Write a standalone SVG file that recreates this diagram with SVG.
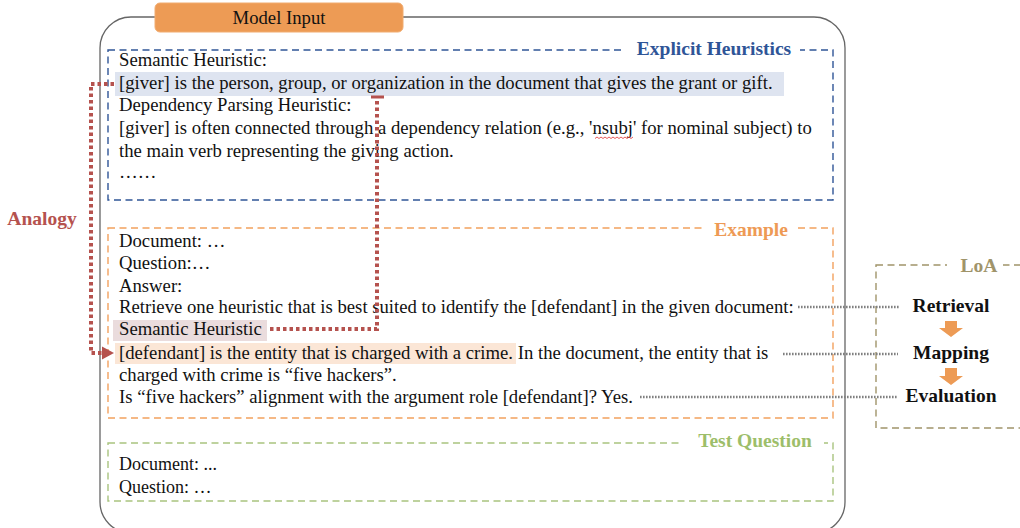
<svg xmlns="http://www.w3.org/2000/svg" width="1020" height="528" viewBox="0 0 1020 528" font-family="Liberation Serif, DejaVu Serif, serif">
<style>
text{font-family:'Liberation Serif','DejaVu Serif',serif;font-size:18.7px;fill:#111}
.b{font-weight:bold;font-size:19.5px}
.title{font-weight:bold;font-size:19.5px;text-anchor:middle}
.dash{fill:none;stroke-width:1.4;stroke-dasharray:7 4.5}
.red{fill:none;stroke:#B5524E;stroke-width:4;stroke-dasharray:3.5 3}
.gray{fill:none;stroke:#808080;stroke-width:2.4;stroke-dasharray:1.6 1.4}
</style>
<rect width="1020" height="528" fill="#fff"/>
<g id="main">
<rect x="100" y="17" width="745" height="516" rx="31" fill="#fff" stroke="#666" stroke-width="1.3"/>
</g>
<g id="model-input">
<rect x="155" y="3" width="248" height="29" rx="5" fill="#ED9B55" stroke="#F1AC70" stroke-width="1"/>
<text x="279" y="24" text-anchor="middle">Model Input</text>
</g>
<g id="explicit">
<rect x="108" y="50" width="725" height="150" class="dash" stroke="#2F5597"/>
<rect x="625" y="40" width="175" height="20" fill="#fff"/>
<text x="714" y="55" class="title" style="fill:#2F5597">Explicit Heuristics</text>
<rect x="115" y="72" width="669" height="24" fill="#DEE4F0"/>
<text x="119" y="66">Semantic Heuristic:</text>
<text x="119" y="89">[giver] is the person, group, or organization in the document that gives the grant or gift.</text>
<text x="119" y="111">Dependency Parsing Heuristic:</text>
<text x="119" y="134">[giver] is often connected through a dependency relation (e.g., 'nsubj' for nominal subject) to</text>
<path d="M595 138.5 l2 -1.5 l2 1.5 l2 -1.5 l2 1.5 l2 -1.5 l2 1.5 l2 -1.5 l2 1.5 l2 -1.5 l2 1.5 l2 -1.5 l2 1.5 l2 -1.5 l2 1.5 l2 -1.5 l2 1.5 l2 -1.5 l2 1.5 l2 -1.5" fill="none" stroke="#E03030" stroke-width="0.8"/>
<text x="119" y="157">the main verb representing the giving action.</text>
<text x="119" y="178">……</text>
</g>
<g id="example">
<rect x="108" y="228" width="725" height="190" class="dash" stroke="#F2A15E"/>
<rect x="705" y="218" width="93" height="20" fill="#fff"/>
<text x="751" y="236" class="title" style="fill:#EE9A55">Example</text>
<rect x="113" y="320" width="154" height="21" fill="#EADCDD"/>
<rect x="115" y="343" width="401" height="21" fill="#FBE6D6"/>
<text x="119" y="247">Document: …</text>
<text x="119" y="269">Question:…</text>
<text x="119" y="292">Answer:</text>
<text x="119" y="313">Retrieve one heuristic that is best suited to identify the [defendant] in the given document:</text>
<text x="119" y="335">Semantic Heuristic</text>
<text x="119" y="359">[defendant] is the entity that is charged with a crime. In the document, the entity that is</text>
<text x="119" y="381">charged with crime is “five hackers”.</text>
<text x="119" y="403">Is “five hackers” alignment with the argument role [defendant]? Yes.</text>
</g>
<g id="test-question">
<rect x="108" y="443" width="725" height="58" class="dash" stroke="#A9C47F"/>
<rect x="683" y="433" width="141" height="20" fill="#fff"/>
<text x="755" y="447" class="title" style="fill:#9DBE6A">Test Question</text>
<text x="119" y="470" style="font-size:18px">Document: ...</text>
<text x="119" y="493" style="font-size:18px">Question: …</text>
</g>
<g id="loa">
<rect x="876" y="265" width="160" height="163" class="dash" stroke="#A0946A"/>
<rect x="947" y="255" width="56" height="20" fill="#fff"/>
<text x="979" y="272" class="title" style="fill:#A0946A">LoA</text>
<text x="951" y="312" class="title" style="fill:#111">Retrieval</text>
<text x="951" y="359" class="title" style="fill:#111">Mapping</text>
<text x="951" y="402" class="title" style="fill:#111">Evaluation</text>
<polygon points="945,321 957,321 957,328 963,328 951,337 939,328 945,328" fill="#ED9B55"/>
<polygon points="945,368 957,368 957,376 963,376 951,385 939,376 945,376" fill="#ED9B55"/>
</g>
<g id="analogy">
<text x="42" y="225" text-anchor="middle" class="b" style="fill:#B5524E">Analogy</text>
</g>
<g id="connectors">
<path class="red" d="M114 84 H91 V353 H102"/>
<polygon points="102,346.5 102,359.5 114,353" fill="#B5524E"/>
<path class="red" d="M270 329 H377 V100"/>
<path d="M371 97 H384" stroke="#B5524E" stroke-width="3" fill="none"/>
<path class="gray" d="M798 307 H899"/>
<path class="gray" d="M783 354 H898"/>
<path class="gray" d="M640 397 H897"/>
</g>
</svg>
